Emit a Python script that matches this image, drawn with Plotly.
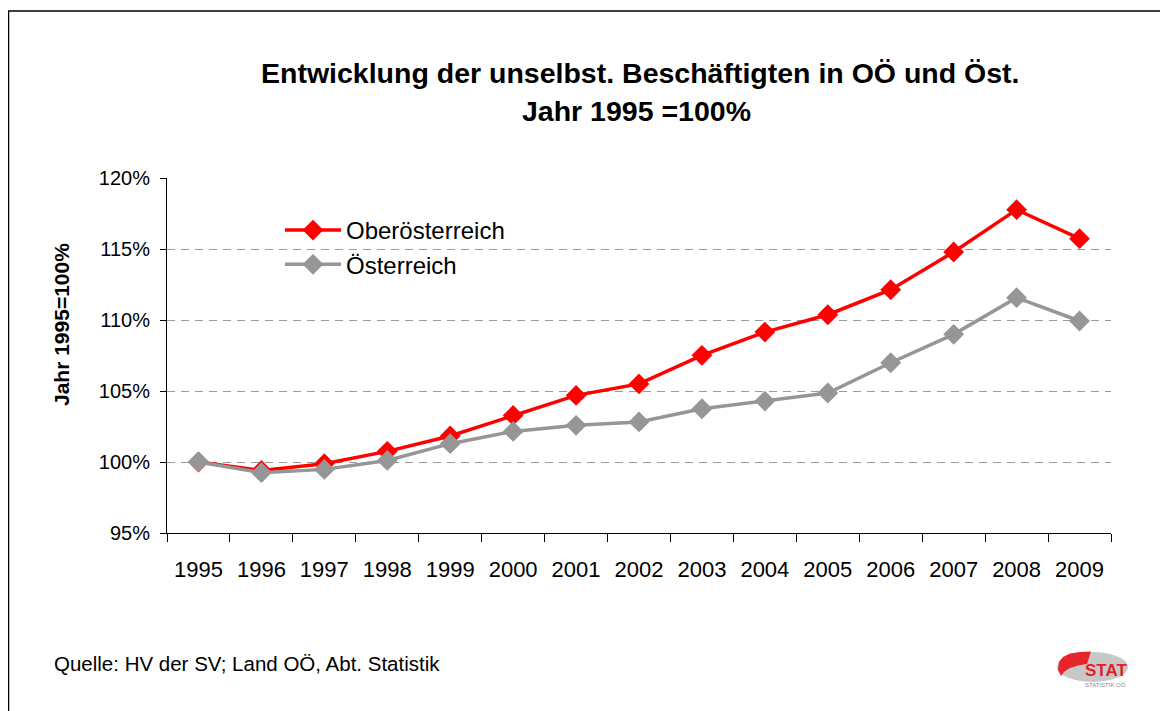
import plotly.graph_objects as go

years = ["1995", "1996", "1997", "1998", "1999", "2000", "2001", "2002",
         "2003", "2004", "2005", "2006", "2007", "2008", "2009"]
ooe = [100.0, 99.41, 99.88, 100.75, 101.83, 103.28, 104.69, 105.5,
       107.51, 109.15, 110.37, 112.13, 114.79, 117.77, 115.73]
oest = [100.0, 99.25, 99.48, 100.11, 101.29, 102.15, 102.58, 102.82,
        103.75, 104.29, 104.86, 106.99, 108.99, 111.57, 109.93]
y_ticks = [95, 100, 105, 110, 115, 120]
y_tick_labels = ["95%", "100%", "105%", "110%", "115%", "120%"]

FONT = "Arial, Liberation Sans, sans-serif"
OFF = 8  # page body margin
W, H = 1168 - OFF, 711 - OFF
# plot area in screen pixels: x 167..1111, y 178..533
L, T = 167 - OFF, 178 - OFF
PW, PH = 944, 355
R, B = W - L - PW, H - T - PH


def px(x):
    return (x - OFF - L) / PW


def py(y):
    return (T + PH - (y - OFF)) / PH


fig = go.Figure()
fig.add_trace(go.Scatter(
    x=years, y=ooe, name="Oberösterreich", mode="lines+markers",
    line=dict(color="#FF0000", width=3.5),
    marker=dict(symbol="diamond", size=16, color="#FF0000"),
))
fig.add_trace(go.Scatter(
    x=years, y=oest, name="Österreich", mode="lines+markers",
    line=dict(color="#969696", width=3.5),
    marker=dict(symbol="diamond", size=16, color="#969696"),
))


def path(points):
    s = "M " + " L ".join(f"{px(x):.5f},{py(y):.5f}" for x, y in points) + " Z"
    return s


red_logo = [(1058, 670), (1059, 662), (1063, 657), (1070, 653.5), (1080, 652),
            (1091, 651.5), (1087, 664), (1078, 665.5), (1070, 668),
            (1064, 672), (1061, 676)]

fig.update_layout(
    width=W, height=H,
    margin=dict(l=L, r=R, t=T, b=B, autoexpand=False),
    paper_bgcolor="white", plot_bgcolor="white",
    font=dict(family=FONT, color="black"),
    showlegend=True,
    legend=dict(
        x=px(280), y=py(208), xanchor="left", yanchor="top",
        bgcolor="rgba(0,0,0,0)", font=dict(size=24, family=FONT),
        itemwidth=56, tracegroupgap=0,
    ),
    xaxis=dict(
        type="category", range=[-0.5, len(years) - 0.5],
        showgrid=False, tickson="boundaries",
        ticks="outside", ticklen=8, tickcolor="black",
        showline=True, linecolor="black", linewidth=1,
        tickfont=dict(size=22, family=FONT), ticklabelstandoff=17,
        fixedrange=True,
    ),
    yaxis=dict(
        range=[95, 120], tickvals=y_ticks, ticktext=y_tick_labels,
        ticks="outside", ticklen=6, tickcolor="black",
        showline=True, linecolor="black", linewidth=1,
        showgrid=True, gridcolor="#9a9a9a", griddash="8px,6px", gridwidth=1,
        zeroline=False, tickfont=dict(size=20, family=FONT),
        ticklabelstandoff=6,
    ),
    annotations=[
        dict(text="<b>Entwicklung der unselbst. Beschäftigten in OÖ und Öst.</b>",
             x=px(640), y=py(73), xref="paper", yref="paper",
             xanchor="center", yanchor="middle", showarrow=False,
             font=dict(size=28.5, family=FONT)),
        dict(text="<b>Jahr 1995 =100%</b>",
             x=px(636), y=py(111), xref="paper", yref="paper",
             xanchor="center", yanchor="middle", showarrow=False,
             font=dict(size=28.5, family=FONT)),
        dict(text="<b>Jahr 1995=100%</b>", textangle=-90,
             x=px(61), y=py(325), xref="paper", yref="paper",
             xanchor="center", yanchor="middle", showarrow=False,
             font=dict(size=21, family=FONT)),
        dict(text="Quelle: HV der SV; Land OÖ, Abt. Statistik",
             x=px(52), y=py(663), xref="paper", yref="paper",
             xanchor="left", yanchor="middle", showarrow=False,
             font=dict(size=20.5, family=FONT)),
        dict(text="<b>STAT</b>",
             x=px(1106), y=py(670), xref="paper", yref="paper",
             xanchor="center", yanchor="middle", showarrow=False,
             font=dict(size=17, family=FONT, color="#E41E26")),
        dict(text="STATISTIK OÖ",
             x=px(1105), y=py(685), xref="paper", yref="paper",
             xanchor="center", yanchor="middle", showarrow=False,
             font=dict(size=6, family=FONT, color="#888888")),
    ],
    shapes=[
        dict(type="rect", xref="paper", yref="paper",
             x0=px(8.5), x1=px(1300), y0=py(900), y1=py(11),
             line=dict(color="black", width=1.5), fillcolor="rgba(0,0,0,0)",
             layer="below"),
        dict(type="circle", xref="paper", yref="paper",
             x0=px(1057), x1=px(1128), y0=py(682), y1=py(652),
             line=dict(width=0), fillcolor="#C8C8C8", layer="above"),
        dict(type="path", xref="paper", yref="paper", path=path(red_logo),
             line=dict(width=0), fillcolor="#E8252B", layer="above"),
    ],
)

fig.write_html("out.html")
